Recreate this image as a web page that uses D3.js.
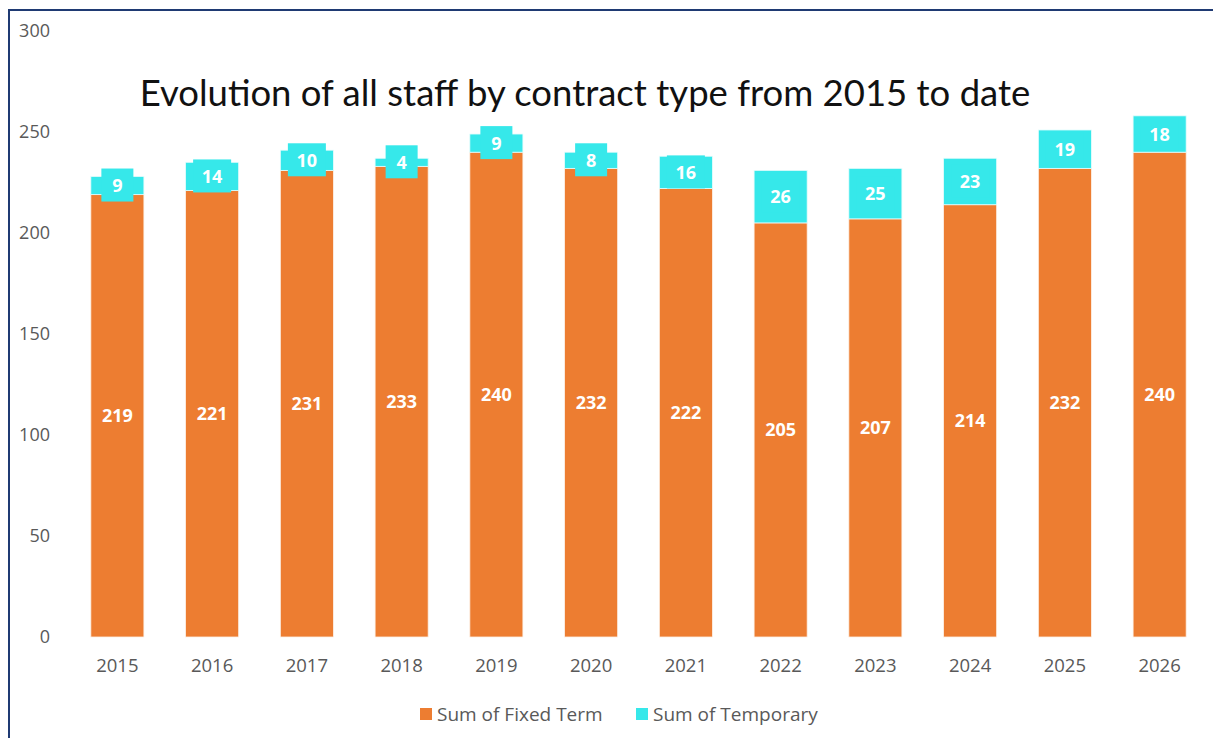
<!DOCTYPE html>
<html>
<head>
<meta charset="utf-8">
<script src="https://cdn.jsdelivr.net/npm/d3@7"></script>
<style>
  body { margin: 0; background: #fff; }
  svg { display: block; }
</style>
</head>
<body>
<div id="chart"></div>
<script>
const years = ["2015", "2016", "2017", "2018", "2019", "2020", "2021", "2022", "2023", "2024", "2025", "2026"];
const fixedTerm = [219, 221, 231, 233, 240, 232, 222, 205, 207, 214, 232, 240];
const temporary = [9, 14, 10, 4, 9, 8, 16, 26, 25, 23, 19, 18];
const yTicks = [0, 50, 100, 150, 200, 250, 300];
const seriesNames = ["Sum of Fixed Term", "Sum of Temporary"];

const fixedCol = "#ED7D31";
const tempCol = "#36E8EA";
const textCol = "#595959";
const font = "'Open Sans', sans-serif";
const titleFont = "Lato, 'Open Sans', sans-serif";

const W = 1213, H = 738;
const margin = { top: 31, right: 6, bottom: 101, left: 70 };

const svg = d3.select("#chart").append("svg")
    .attr("width", W)
    .attr("height", H);

// outer frame (only top and left edges visible in the shot)
svg.append("rect")
    .attr("x", 9).attr("y", 10)
    .attr("width", W + 20).attr("height", H + 20)
    .attr("fill", "none")
    .attr("stroke", "#1F3A73")
    .attr("stroke-width", 2);

const x = d3.scaleBand()
    .domain(years)
    .range([margin.left, W - margin.right])
    .paddingInner(0.44)
    .paddingOuter(0.22);

const y = d3.scaleLinear()
    .domain([0, 300])
    .range([H - margin.bottom, margin.top]);

const rows = years.map((yr, i) => ({ year: yr, fixed: fixedTerm[i], temp: temporary[i] }));

// Fixed term bars
svg.selectAll("rect.fixed")
    .data(rows)
    .enter()
    .append("rect")
    .attr("class", "fixed")
    .attr("x", d => x(d.year))
    .attr("y", d => y(d.fixed))
    .attr("width", x.bandwidth())
    .attr("height", d => y(0) - y(d.fixed))
    .attr("fill", fixedCol)
    .attr("stroke", "#fdf0e6")
    .attr("stroke-width", 0.8);

// Temporary bars
svg.selectAll("rect.temp")
    .data(rows)
    .enter()
    .append("rect")
    .attr("class", "temp")
    .attr("x", d => x(d.year))
    .attr("y", d => y(d.fixed + d.temp))
    .attr("width", x.bandwidth())
    .attr("height", d => y(d.fixed) - y(d.fixed + d.temp))
    .attr("fill", tempCol)
    .attr("stroke", "#e6fcfc")
    .attr("stroke-width", 0.8);

// Temporary labels with filled boxes
const tempLabels = svg.selectAll("g.temp-label")
    .data(rows)
    .enter()
    .append("g")
    .attr("class", "temp-label")
    .attr("transform", d => `translate(${x(d.year) + x.bandwidth() / 2},${y(d.fixed + d.temp / 2)})`);

tempLabels.append("rect")
    .attr("x", d => String(d.temp).length > 1 ? -19 : -16)
    .attr("y", -17)
    .attr("width", d => String(d.temp).length > 1 ? 38 : 32)
    .attr("height", 33)
    .attr("fill", tempCol);

tempLabels.append("text")
    .attr("text-anchor", "middle")
    .attr("dy", "0.36em")
    .attr("fill", "#fff")
    .style("font-family", font)
    .style("font-weight", "bold")
    .style("font-size", "18px")
    .text(d => d.temp);

// Fixed term labels
svg.selectAll("text.fixed-label")
    .data(rows)
    .enter()
    .append("text")
    .attr("class", "fixed-label")
    .attr("x", d => x(d.year) + x.bandwidth() / 2)
    .attr("y", d => y(d.fixed / 2))
    .attr("dy", "0.36em")
    .attr("text-anchor", "middle")
    .attr("fill", "#fff")
    .style("font-family", font)
    .style("font-weight", "bold")
    .style("font-size", "18px")
    .text(d => d.fixed);

// Y axis
const yAxis = svg.append("g")
    .attr("transform", `translate(50,0)`)
    .call(d3.axisLeft(y).tickValues(yTicks).tickSize(0).tickPadding(0));
yAxis.select(".domain").remove();
yAxis.selectAll("text")
    .attr("fill", textCol)
    .style("font-family", font)
    .style("font-size", "18px");

// X axis
const xAxis = svg.append("g")
    .attr("transform", `translate(0,${y(0)})`)
    .call(d3.axisBottom(x).tickSize(0).tickPadding(22));
xAxis.select(".domain").remove();
xAxis.selectAll("text")
    .attr("fill", textCol)
    .style("font-family", font)
    .style("font-size", "18.5px");

// Title
svg.append("text")
    .attr("x", 585)
    .attr("y", 93)
    .attr("dy", "0.35em")
    .attr("text-anchor", "middle")
    .attr("fill", "#111")
    .style("font-family", titleFont)
    .style("font-size", "36.5px")
    .text("Evolution of all staff by contract type from 2015 to date");

// Legend
const legend = svg.append("g").attr("transform", "translate(420,714)");
const legendX = [0, 216];
const legendCols = [fixedCol, tempCol];
seriesNames.forEach((name, i) => {
    legend.append("rect")
        .attr("x", legendX[i])
        .attr("y", -6)
        .attr("width", 12)
        .attr("height", 12)
        .attr("fill", legendCols[i]);
    legend.append("text")
        .attr("x", legendX[i] + 17)
        .attr("y", 0)
        .attr("dy", "0.35em")
        .attr("fill", textCol)
        .style("font-family", font)
        .style("font-size", "19px")
        .text(name);
});
</script>
</body>
</html>
